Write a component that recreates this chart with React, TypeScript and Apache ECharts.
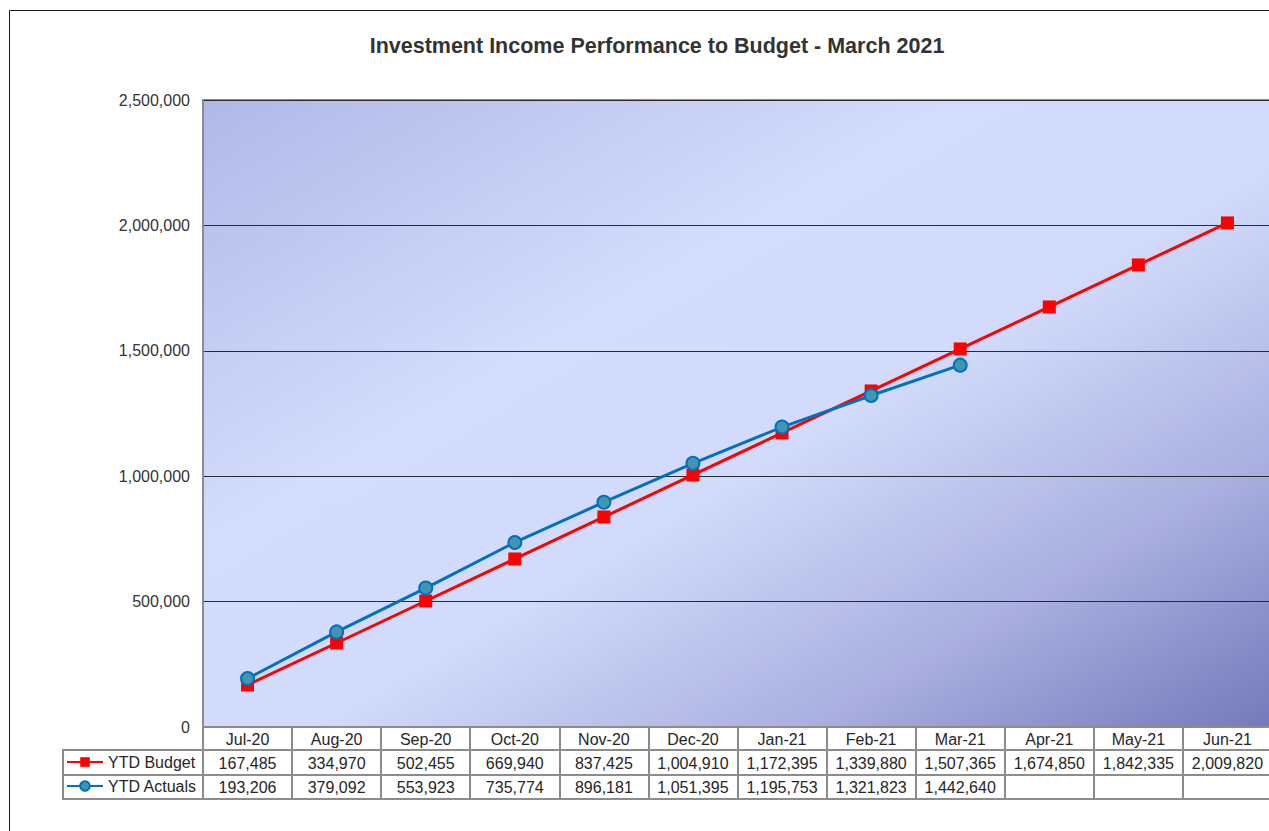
import React, { useEffect, useRef } from "react";
import * as echarts from "echarts";

const months = ["Jul-20", "Aug-20", "Sep-20", "Oct-20", "Nov-20", "Dec-20", "Jan-21", "Feb-21", "Mar-21", "Apr-21", "May-21", "Jun-21"];
const budget = [167485, 334970, 502455, 669940, 837425, 1004910, 1172395, 1339880, 1507365, 1674850, 1842335, 2009820];
const actuals = [193206, 379092, 553923, 735774, 896181, 1051395, 1195753, 1321823, 1442640];
const seriesNames = ["YTD Budget", "YTD Actuals"];
const titleText = "Investment Income Performance to Budget - March 2021";

const FONT = "'Liberation Sans', Arial, sans-serif";
const fmt = (v: number) => v.toLocaleString("en-US");

export default function App() {
  const ref = useRef<HTMLDivElement>(null);
  useEffect(() => {
    if (!ref.current) return;
    const chart = echarts.init(ref.current, undefined, { renderer: "svg" });
    const baseX = {
      type: "category",
      data: months,
      boundaryGap: true,
      position: "bottom",
      splitLine: { show: false },
    };
    const cellLine = { color: "#8c8c8c", width: 2 };
    const tableText = { fontSize: 16, color: "#262626", fontFamily: FONT };
    chart.setOption({
      animation: false,
      textStyle: { fontFamily: FONT },
      title: {
        text: titleText,
        left: 652,
        textAlign: "center",
        top: 30,
        textStyle: { fontSize: 21.5, fontWeight: "bold", color: "#333333", fontFamily: FONT },
      },
      legend: {
        orient: "vertical",
        left: 66,
        top: 754,
        itemWidth: 36,
        itemHeight: 12,
        itemGap: 8,
        padding: 0,
        data: seriesNames,
        textStyle: { ...tableText },
        selectedMode: false,
      },
      grid: {
        left: 203,
        top: 100,
        width: 1069,
        height: 627,
        show: true,
        borderColor: "#8c8c8c",
        borderWidth: 2,
        backgroundColor: new echarts.graphic.LinearGradient(0, 0, 1, 1, [
          { offset: 0, color: "#b0b8e7" },
          { offset: 0.35, color: "#d3dcfc" },
          { offset: 0.55, color: "#d2dbfb" },
          { offset: 0.78, color: "#aab0e0" },
          { offset: 1, color: "#7479bb" },
        ]),
      },
      xAxis: [
        {
          ...baseX,
          offset: 0,
          axisLine: { show: true, lineStyle: cellLine },
          axisTick: { show: true, length: 23, interval: 0, lineStyle: cellLine },
          axisLabel: { interval: 0, margin: 4, ...tableText },
        },
        {
          ...baseX,
          offset: 23,
          axisLine: { show: true, lineStyle: cellLine },
          axisTick: { show: true, length: 25, interval: 0, lineStyle: cellLine },
          axisLabel: {
            interval: 0, margin: 5, ...tableText,
            formatter: (_v: string, i: number) => fmt(budget[i]),
          },
        },
        {
          ...baseX,
          offset: 48,
          axisLine: { show: true, lineStyle: cellLine },
          axisTick: { show: true, length: 24, interval: 0, lineStyle: cellLine },
          axisLabel: {
            interval: 0, margin: 4, ...tableText,
            formatter: (_v: string, i: number) => (i < actuals.length ? fmt(actuals[i]) : ""),
          },
        },
        {
          ...baseX,
          offset: 72,
          axisLine: { show: true, lineStyle: cellLine },
          axisTick: { show: false },
          axisLabel: { show: false },
        },
      ],
      yAxis: {
        type: "value",
        min: 0,
        max: 2500000,
        interval: 500000,
        axisLine: { show: true, lineStyle: cellLine },
        axisTick: { show: false },
        axisLabel: {
          fontSize: 16, color: "#333333", margin: 13, fontFamily: FONT,
          formatter: (v: number) => fmt(v),
        },
        splitLine: { show: true, lineStyle: { color: "#2b2b2b", width: 1 } },
      },
      graphic: [
        {
          type: "rect",
          z: -10,
          shape: { x: 9.5, y: 10.5, width: 1400, height: 1000 },
          style: { fill: "none", stroke: "#1a1a1a", lineWidth: 1 },
          silent: true,
        },
        {
          type: "rect",
          shape: { x: 63, y: 750, width: 140, height: 49 },
          style: { fill: "none", stroke: "#8c8c8c", lineWidth: 2 },
          silent: true,
        },
        {
          type: "line",
          shape: { x1: 63, y1: 775, x2: 203, y2: 775 },
          style: { stroke: "#8c8c8c", lineWidth: 2 },
          silent: true,
        },
      ],
      series: [
        {
          name: seriesNames[0],
          type: "line",
          xAxisIndex: 0,
          data: budget,
          symbol: "rect",
          symbolSize: 13,
          lineStyle: { color: "#ff0000", width: 3 },
          itemStyle: { color: "#ff0000" },
          z: 2,
        },
        {
          name: seriesNames[1],
          type: "line",
          xAxisIndex: 0,
          data: actuals,
          symbol: "circle",
          symbolSize: 13,
          lineStyle: { color: "#0070c0", width: 3 },
          itemStyle: { color: "#4096b0", borderColor: "#0070c0", borderWidth: 2 },
          z: 3,
        },
      ],
    });
    return () => chart.dispose();
  }, []);
  return (
    <div style={{ position: "absolute", left: 0, top: 0, width: 1269, height: 831, overflow: "hidden", background: "#fff" }}>
      <div ref={ref} style={{ width: 1290, height: 831 }} />
    </div>
  );
}
